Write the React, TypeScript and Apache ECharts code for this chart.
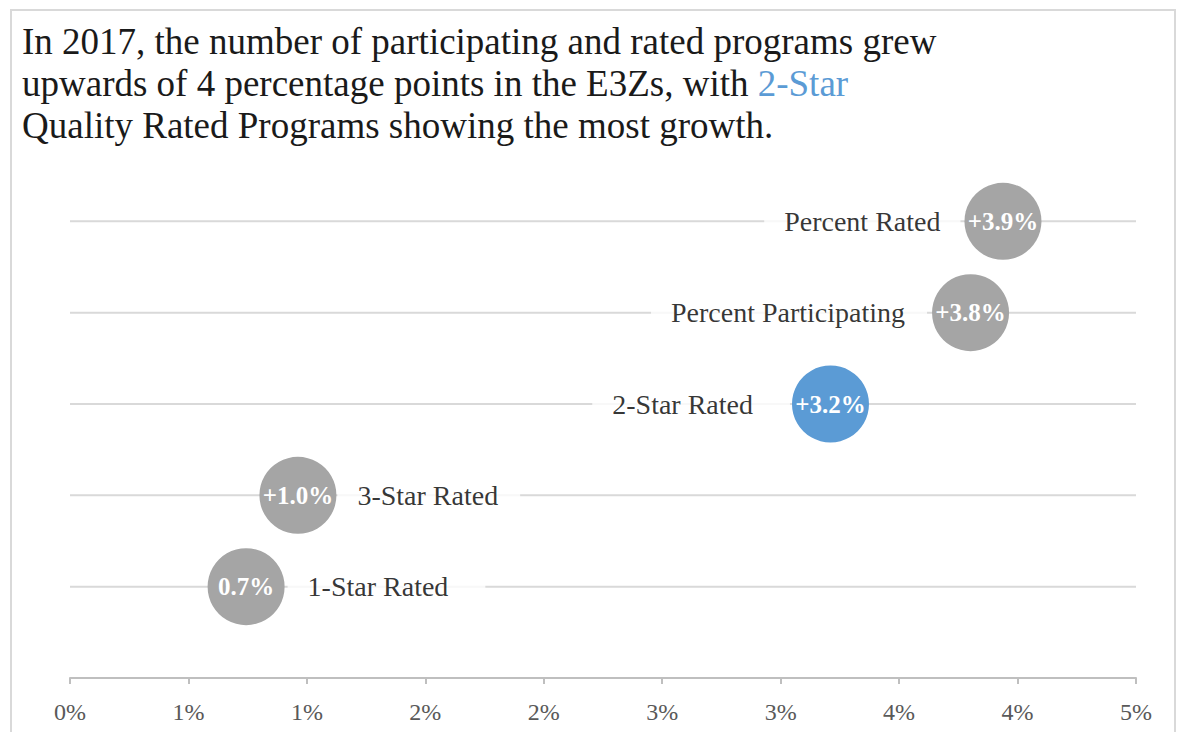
import React, { useEffect, useRef } from "react";
import * as echarts from "echarts";

const categories = ["Percent Rated", "Percent Participating", "2-Star Rated", "3-Star Rated", "1-Star Rated"];
const xValues = [4.376, 4.224, 3.567, 1.069, 0.826];
const rowValues = [5, 4, 3, 2, 1];
const valueLabels = ["+3.9%", "+3.8%", "+3.2%", "+1.0%", "0.7%"];
const highlight = [false, false, true, false, false];
const labelSide = ["left", "left", "left", "right", "right"];
const xMin = 0;
const xMax = 5;

const SERIF = "'Liberation Serif', 'DejaVu Serif', serif";
const GRAY = "#a5a5a5";
const BLUE = "#5b9bd5";

const labelTuning = [
  { distance: 4, padding: [4, 20, 4, 20] },
  { distance: 5, padding: [4, 22, 4, 20] },
  { distance: 2, padding: [4, 37, 4, 20] },
  { distance: 1, padding: [4, 22, 4, 20] },
  { distance: 3, padding: [4, 37, 4, 20] },
];

export default function App() {
  const ref = useRef<HTMLDivElement>(null);
  useEffect(() => {
    if (!ref.current) return;
    const chart = echarts.init(ref.current, undefined, { renderer: "svg" });
    const gridSeries = rowValues.map((r) => ({
      type: "line",
      silent: true,
      symbol: "none",
      z: 1,
      lineStyle: { color: "#d9d9d9", width: 2 },
      data: [
        [xMin, r],
        [xMax, r],
      ],
    }));
    chart.setOption({
      animation: false,
      backgroundColor: "#fff",
      title: {
        left: 17,
        top: 15,
        text:
          "In 2017, the number of participating and rated programs grew\nupwards of 4 percentage points in the E3Zs, with {b|2-Star}\nQuality Rated Programs showing the most growth.",
        textStyle: {
          fontFamily: SERIF,
          fontSize: 37,
          fontWeight: "normal",
          color: "#1a1a1a",
          lineHeight: 42,
          rich: {
            b: { fontFamily: SERIF, fontSize: 37, color: BLUE, lineHeight: 42 },
          },
        },
      },
      graphic: [
        {
          type: "rect",
          shape: { x: 11, y: 10, width: 1164, height: 800 },
          style: { fill: "none", stroke: "#d9d9d9", lineWidth: 2 },
          silent: true,
          z: 0,
        },
      ],
      grid: { left: 70, right: 41, top: 130, bottom: 54 },
      xAxis: {
        type: "value",
        min: xMin,
        max: xMax,
        interval: (xMax - xMin) / 9,
        splitLine: { show: false },
        axisLine: { show: true, lineStyle: { color: "#bfbfbf", width: 2 } },
        axisTick: { show: true, length: 6, lineStyle: { color: "#bfbfbf", width: 2 } },
        axisLabel: {
          fontFamily: SERIF,
          fontSize: 24,
          color: "#595959",
          margin: 22,
          formatter: (v: number) => Math.round(v) + "%",
        },
      },
      yAxis: {
        type: "value",
        min: 0,
        max: 6,
        show: false,
      },
      series: [
        ...gridSeries,
        {
          type: "scatter",
          z: 4,
          symbolSize: 77,
          data: xValues.map((x, i) => ({
            value: [x, rowValues[i]],
            itemStyle: { color: highlight[i] ? BLUE : GRAY, opacity: 1 },
            label: { formatter: valueLabels[i] },
          })),
          label: {
            show: true,
            position: "inside",
            fontFamily: SERIF,
            fontSize: 25,
            fontWeight: "bold",
            color: "#fff",
          },
        },
        {
          type: "scatter",
          z: 5,
          silent: true,
          symbolSize: 77,
          itemStyle: { color: "rgba(0,0,0,0)" },
          data: xValues.map((x, i) => ({
            value: [x, rowValues[i]],
            label: {
              formatter: categories[i],
              position: labelSide[i],
              distance: labelTuning[i].distance,
              padding: labelTuning[i].padding,
            },
          })),
          label: {
            show: true,
            fontFamily: SERIF,
            fontSize: 28,
            color: "#000",
            backgroundColor: "#fff",
          },
        },
      ],
    });
    return () => chart.dispose();
  }, []);
  return (
    <div
      ref={ref}
      style={{ position: "fixed", left: 0, top: 0, width: 1177, height: 732 }}
    />
  );
}
